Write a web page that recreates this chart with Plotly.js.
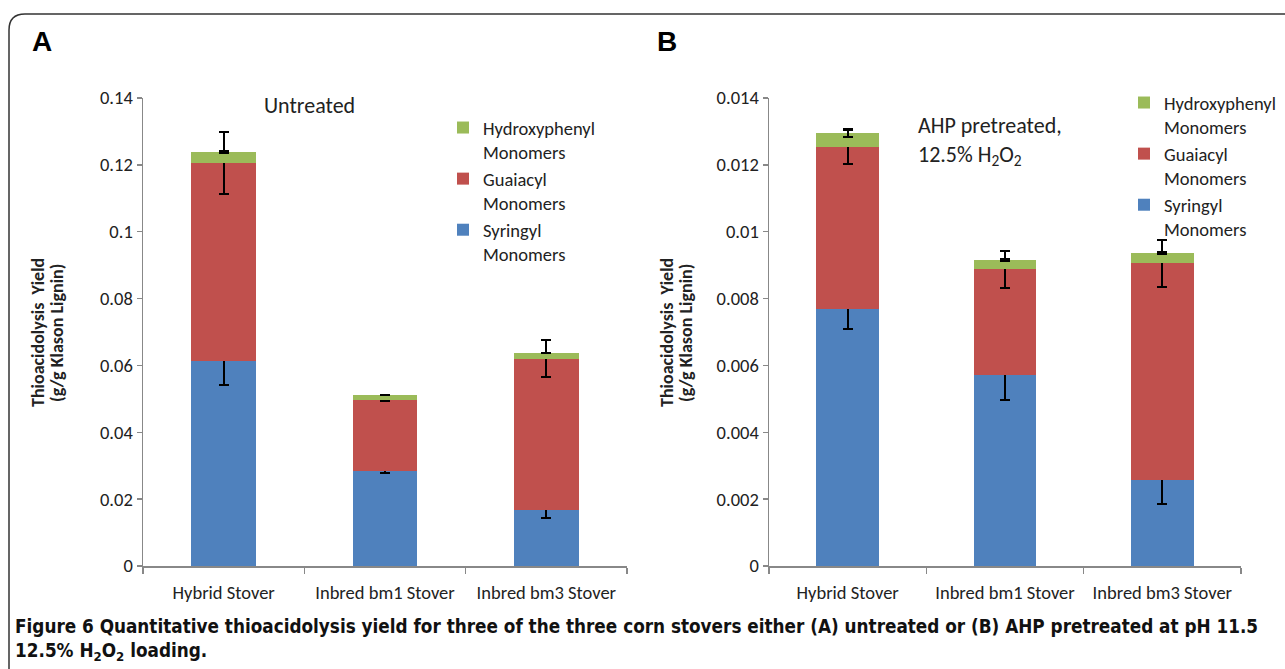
<!DOCTYPE html>
<html>
<head>
<meta charset="utf-8">
<script src="https://cdn.plot.ly/plotly-3.0.1.min.js"></script>
<style>html,body{margin:0;padding:0;background:#fff;}#chart{width:1285px;height:669px;}</style>
</head>
<body>
<div id="chart"></div>
<script>
// ---- data ----
const categories = ['Hybrid Stover', 'Inbred bm1 Stover', 'Inbred bm3 Stover'];
const seriesNames = ['Syringyl<br>Monomers', 'Guaiacyl<br>Monomers', 'Hydroxyphenyl<br>Monomers'];

// Panel A: untreated
const untreatedS = [0.0613, 0.0284, 0.0168];
const untreatedG = [0.0593, 0.0213, 0.0452];
const untreatedH = [0.0032, 0.0015, 0.0018];
const untreatedSErr = [0.0072, 0.0007, 0.0024];
const untreatedGErr = [0.0092, 0.0003, 0.0056];
const untreatedHErr = [0.0003, 0.0001, 0.0000];

// Panel B: AHP pretreated, 12.5% H2O2
const pretreatedS = [0.00770, 0.00571, 0.00257];
const pretreatedG = [0.00484, 0.00317, 0.00649];
const pretreatedH = [0.00040, 0.00027, 0.00031];
const pretreatedSErr = [0.00062, 0.00075, 0.00073];
const pretreatedGErr = [0.00052, 0.00055, 0.00070];
const pretreatedHErr = [0.00010, 0.00003, 0.00003];

const colors = ['#4F81BD', '#C0504D', '#9BBB59'];
const FONT = 'Carlito, Calibri, Lato, sans-serif';
const tickFont = {family: FONT, size: 18.5, color: '#222'};

function barTrace(name, vals, errs, color, xa, ya, legend) {
  return {
    type: 'bar', name: name, x: categories, y: vals,
    xaxis: xa, yaxis: ya, legend: legend,
    marker: {color: color, line: {width: 0}},
    error_y: {type: 'data', array: errs, visible: true, color: '#000', thickness: 2, width: 5},
    hoverinfo: 'skip'
  };
}

const data = [
  barTrace(seriesNames[0], untreatedS, untreatedSErr, colors[0], 'x', 'y', 'legend'),
  barTrace(seriesNames[1], untreatedG, untreatedGErr, colors[1], 'x', 'y', 'legend'),
  barTrace(seriesNames[2], untreatedH, untreatedHErr, colors[2], 'x', 'y', 'legend'),
  barTrace(seriesNames[0], pretreatedS, pretreatedSErr, colors[0], 'x2', 'y2', 'legend2'),
  barTrace(seriesNames[1], pretreatedG, pretreatedGErr, colors[1], 'x2', 'y2', 'legend2'),
  barTrace(seriesNames[2], pretreatedH, pretreatedHErr, colors[2], 'x2', 'y2', 'legend2')
];

const W = 1285, H = 669;
const px = v => v / W;
const py = v => 1 - v / H;

const xaxisCommon = {
  type: 'category', showgrid: false, zeroline: false,
  showline: true, linecolor: '#888', linewidth: 1.5,
  ticks: 'outside', tickson: 'boundaries', ticklen: 6, tickcolor: '#888', tickwidth: 1.5,
  ticklabelstandoff: 9,
  tickfont: Object.assign({}, tickFont), fixedrange: true
};
const yaxisCommon = {
  showgrid: false, zeroline: false, showline: true, linecolor: '#888', linewidth: 1.5,
  ticks: 'outside', ticklen: 5, tickcolor: '#888', tickwidth: 1.5,
  tickfont: Object.assign({}, tickFont), fixedrange: true
};

const legendCommon = {
  font: {family: FONT, size: 18.5, color: '#222'},
  traceorder: 'reversed', valign: 'top',
  bgcolor: 'rgba(0,0,0,0)', itemwidth: 30, xanchor: 'left', yanchor: 'top'
};

const annFont = (size) => ({family: FONT, size: size, color: '#222'});

const layout = {
  width: W, height: H,
  margin: {l: 0, r: 0, t: 0, b: 0},
  paper_bgcolor: '#fff', plot_bgcolor: '#fff',
  barmode: 'stack', bargap: 0.6,
  showlegend: true,
  xaxis: Object.assign({}, xaxisCommon, {domain: [px(143), px(627)], anchor: 'y'}),
  yaxis: Object.assign({}, yaxisCommon, {domain: [py(566), py(98)], range: [0, 0.14], dtick: 0.02, anchor: 'x'}),
  xaxis2: Object.assign({}, xaxisCommon, {domain: [px(769), px(1241)], anchor: 'y2'}),
  yaxis2: Object.assign({}, yaxisCommon, {domain: [py(566), py(98)], range: [0, 0.014], dtick: 0.002, anchor: 'x2'}),
  legend: Object.assign({}, legendCommon, {x: px(443), y: py(109)}),
  legend2: Object.assign({}, legendCommon, {x: px(1124), y: py(84)}),
  shapes: [{
    type: 'path', xref: 'paper', yref: 'paper',
    path: `M ${px(9)},0 L ${px(9)},${py(30)} Q ${px(9)},${py(14)} ${px(25)},${py(14)} L ${px(1290)},${py(14)}`,
    line: {color: '#333', width: 1.5}
  }],
  annotations: [
    {xref: 'paper', yref: 'paper', x: px(30), y: py(42), xanchor: 'left', yanchor: 'middle', showarrow: false,
     text: '<b>A</b>', font: {family: 'Liberation Sans, Arial, sans-serif', size: 28, color: '#000'}},
    {xref: 'paper', yref: 'paper', x: px(655), y: py(42), xanchor: 'left', yanchor: 'middle', showarrow: false,
     text: '<b>B</b>', font: {family: 'Liberation Sans, Arial, sans-serif', size: 28, color: '#000'}},
    {xref: 'paper', yref: 'paper', x: px(262), y: py(105), xanchor: 'left', yanchor: 'middle', showarrow: false,
     text: 'Untreated', font: annFont(22)},
    {xref: 'paper', yref: 'paper', x: px(916), y: py(141), xanchor: 'left', yanchor: 'middle', showarrow: false, align: 'left',
     text: 'AHP pretreated,<br>12.5% H<sub>2</sub>O<sub>2</sub>', font: annFont(22)},
    // y-axis titles, panel A
    {xref: 'paper', yref: 'paper', x: px(38), y: py(333), xanchor: 'center', yanchor: 'middle', showarrow: false, textangle: -90,
     text: '<b>Thioacidolysis  Yield</b>', font: annFont(18)},
    {xref: 'paper', yref: 'paper', x: px(57), y: py(333), xanchor: 'center', yanchor: 'middle', showarrow: false, textangle: -90,
     text: '<b>(g/g Klason Lignin)</b>', font: annFont(18)},
    // y-axis titles, panel B
    {xref: 'paper', yref: 'paper', x: px(667), y: py(333), xanchor: 'center', yanchor: 'middle', showarrow: false, textangle: -90,
     text: '<b>Thioacidolysis  Yield</b>', font: annFont(18)},
    {xref: 'paper', yref: 'paper', x: px(686), y: py(333), xanchor: 'center', yanchor: 'middle', showarrow: false, textangle: -90,
     text: '<b>(g/g Klason Lignin)</b>', font: annFont(18)},
    {xref: 'paper', yref: 'paper', x: px(13), y: py(640), xanchor: 'left', yanchor: 'middle', showarrow: false, align: 'left',
     text: '<b>Figure 6 Quantitative thioacidolysis yield for three of the three corn stovers either (A) untreated or (B) AHP pretreated at pH 11.5<br>12.5% H<sub>2</sub>O<sub>2</sub> loading.</b>',
     font: {family: 'Liberation Sans Narrow, DejaVu Sans Condensed, Arial Narrow, sans-serif', size: 18.75, color: '#111'}}
  ]
};

Plotly.newPlot('chart', data, layout, {displayModeBar: false, staticPlot: true});
</script>
</body>
</html>
